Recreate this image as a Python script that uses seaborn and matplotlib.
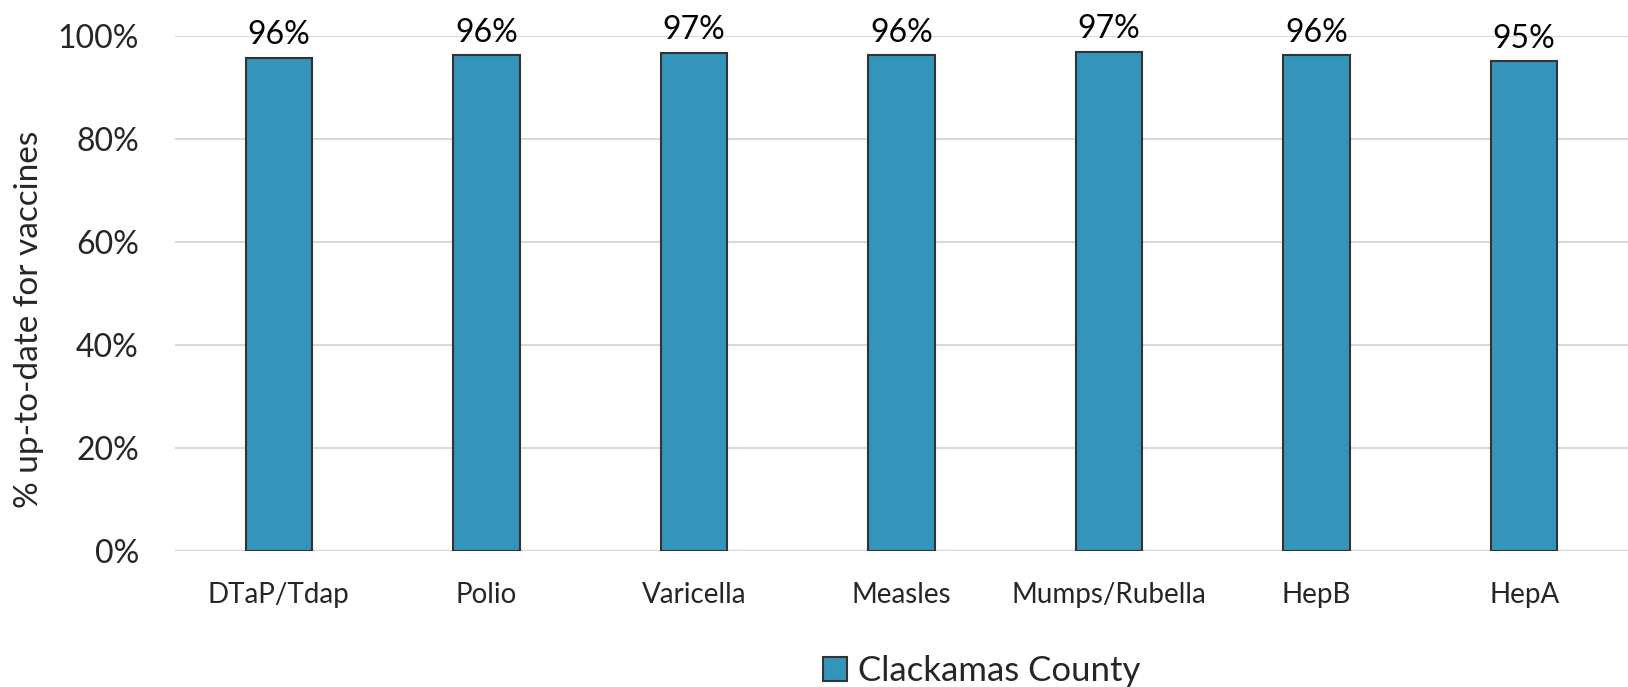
import pandas as pd
import matplotlib.pyplot as plt
import seaborn as sns
from matplotlib.ticker import PercentFormatter

vaccines = ['DTaP/Tdap', 'Polio', 'Varicella', 'Measles', 'Mumps/Rubella', 'HepB', 'HepA']
pct_up_to_date = [95.7, 96.2, 96.7, 96.2, 96.9, 96.2, 95.0]
labels = ['96%', '96%', '97%', '96%', '97%', '96%', '95%']
series_name = 'Clackamas County'

BAR_COLOR = '#3494BA'


def create_chart():
    df = pd.DataFrame({'Vaccine': vaccines, 'Pct': pct_up_to_date, 'Series': series_name})

    sns.set_style('white')
    plt.rcParams['font.family'] = ['Lato', 'DejaVu Sans']

    fig = plt.figure(figsize=(16.28, 6.87), dpi=100)
    ax = fig.add_axes([0.1075, 0.198, 0.8925, 0.75])

    sns.barplot(data=df, x='Vaccine', y='Pct', hue='Series', palette=[BAR_COLOR],
                saturation=1, width=0.32, edgecolor='#333333', linewidth=1.5,
                ax=ax, zorder=3)

    for i, (v, lab) in enumerate(zip(pct_up_to_date, labels)):
        ax.text(i, v + 1.5, lab, ha='center', va='bottom', fontsize=23, color='black')

    ax.set_ylim(0, 100)
    ax.set_xlim(-0.5, 6.5)
    ax.set_yticks([0, 20, 40, 60, 80, 100])
    ax.yaxis.set_major_formatter(PercentFormatter(decimals=0))
    ax.tick_params(axis='y', labelsize=23, length=0, pad=26)
    ax.tick_params(axis='x', labelsize=20, length=0, pad=22)
    ax.set_xlabel('')
    ax.set_ylabel('% up-to-date for vaccines', fontsize=24)
    ax.yaxis.set_label_coords(-0.09, 0.45)
    ax.grid(axis='y', color='#d9d9d9', linewidth=1.5, zorder=0)
    ax.set_axisbelow(True)
    for s in ax.spines.values():
        s.set_visible(False)
    ax.axhline(0, color='#d9d9d9', linewidth=2.5, zorder=1)

    ax.legend(loc='upper center', bbox_to_anchor=(0.555, -0.142), frameon=False,
              fontsize=25, handlelength=0.7, handleheight=0.7, handletextpad=0.3)

    fig.savefig('out.png', dpi=100)


if __name__ == '__main__':
    create_chart()
